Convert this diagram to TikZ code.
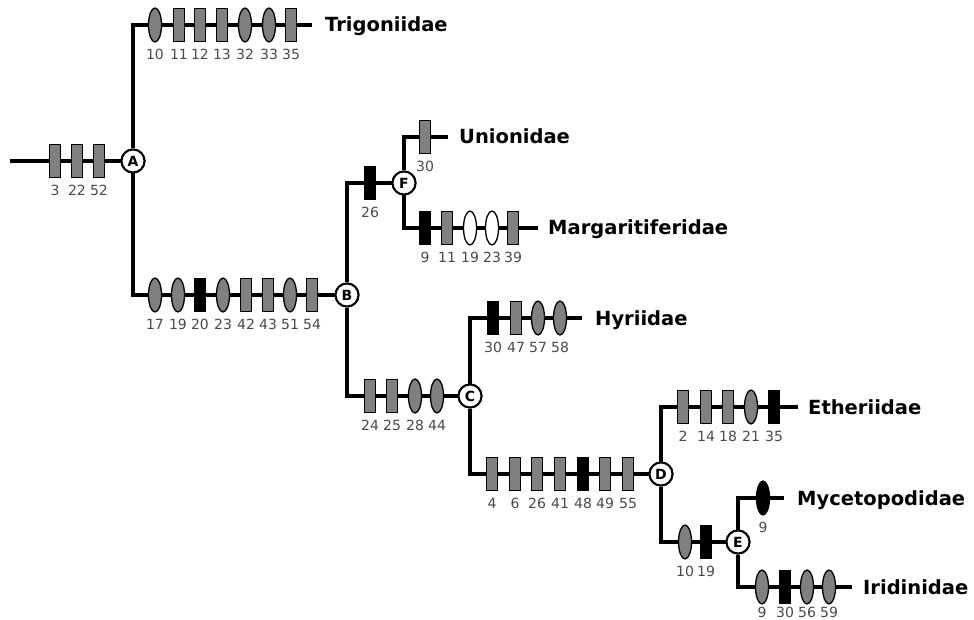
\documentclass[tikz,border=0pt]{standalone}
\usepackage{fontspec}
\setmainfont{DejaVu Sans}
\usetikzlibrary{shapes.geometric}
\definecolor{markgray}{HTML}{808080}
\definecolor{numgray}{HTML}{4A4A4A}

% One row of character-state marks along a branch:
% #1 name prefix, #2 y of the branch, #3 list of x/style/number, #4 label offset
\newcommand\markrow[4][29]{%
  \foreach \xx/\mk/\lb [count=\ii] in {#4} {%
    \node[\mk] (#2\ii) at (\xx,#3) {};
    \node[num] (#2\ii n) at (\xx,#3+#1) {\lb};
  }%
}

\begin{document}
\begin{tikzpicture}[x=1pt,y=-1pt,
  branch/.style={line width=3.3pt,black},
  rmark/.style={rectangle,draw=black,line width=1.3pt,minimum width=11.5pt,minimum height=33pt,inner sep=0pt},
  emark/.style={ellipse,draw=black,line width=1.3pt,minimum width=13pt,minimum height=34pt,inner sep=0pt},
  rg/.style={rmark,fill=markgray},
  rb/.style={rmark,fill=black},
  eg/.style={emark,fill=markgray},
  eb/.style={emark,fill=black},
  ew/.style={emark,fill=white},
  num/.style={font=\fontsize{14}{14}\selectfont,text=numgray,inner sep=0pt},
  taxon/.style={font=\fontsize{19.5}{20}\selectfont\bfseries,anchor=base west,inner sep=0pt},
  hub/.style={circle,draw=black,line width=2pt,fill=white,minimum size=23pt,inner sep=0pt,font=\fontsize{14}{14}\selectfont\bfseries}
]
\fill[white] (0,0) rectangle (974,620);
\useasboundingbox (0,0) rectangle (974,620);

% internal nodes
\node[hub] (A) at (133,161) {A};
\node[hub] (B) at (347,295) {B};
\node[hub] (F) at (404,183) {F};
\node[hub] (C) at (470,396) {C};
\node[hub] (D) at (661,474) {D};
\node[hub] (E) at (738,542) {E};

% terminal ends of the branches
\coordinate (root) at (10,161);
\coordinate (trigEnd) at (312,25);
\coordinate (unioEnd) at (448,137);
\coordinate (margEnd) at (538,228);
\coordinate (hyriEnd) at (582,318);
\coordinate (ethEnd) at (798,407);
\coordinate (mycEnd) at (784,498);
\coordinate (iridEnd) at (852,587);

% tree branches
\begin{scope}[branch]
\draw (root) -- (A);
\draw (A) |- (trigEnd);
\draw (A) |- (B);
\draw (B) |- (F);
\draw (F) |- (unioEnd);
\draw (F) |- (margEnd);
\draw (B) |- (C);
\draw (C) |- (hyriEnd);
\draw (C) |- (D);
\draw (D) |- (ethEnd);
\draw (D) |- (E);
\draw (E) |- (mycEnd);
\draw (E) |- (iridEnd);
\end{scope}

% character states on each branch
\markrow{r}{161}{55/rg/3, 77/rg/22, 99/rg/52}
\markrow{t}{25}{155/eg/10, 179/rg/11, 200/rg/12, 222/rg/13, 245/eg/32, 269/eg/33, 291/rg/35}
\markrow{b}{295}{155/eg/17, 178/eg/19, 200/rb/20, 223/eg/23, 246/rg/42, 268/rg/43, 290/eg/51, 312/rg/54}
\markrow{f}{183}{370/rb/26}
\markrow{u}{137}{425/rg/30}
\markrow{m}{228}{425/rb/9, 447/rg/11, 470/ew/19, 492/ew/23, 513/rg/39}
\markrow{c}{396}{370/rg/24, 392/rg/25, 415/eg/28, 437/eg/44}
\markrow{h}{318}{493/rb/30, 516/rg/47, 538/eg/57, 560/eg/58}
\markrow{d}{474}{492/rg/4, 515/rg/6, 537/rg/26, 560/rg/41, 583/rb/48, 605/rg/49, 628/rg/55}
\markrow{e}{407}{683/rg/2, 706/rg/14, 728/rg/18, 751/eg/21, 774/rb/35}
\markrow{k}{542}{685/eg/10, 706/rb/19}
\markrow{y}{498}{763/eb/9}
\markrow[25]{i}{587}{762/eg/9, 785/rb/30, 807/eg/56, 829/eg/59}

% redraw the hubs on top
\foreach \h in {A,B,F,C,D,E} {\node[hub] at (\h) {\h};}

% taxa
\node[taxon] (trig) at (325,32) {Trigoniidae};
\node[taxon] (unio) at (459,144) {Unionidae};
\node[taxon] (marg) at (548,235) {Margaritiferidae};
\node[taxon] (hyri) at (595,325) {Hyriidae};
\node[taxon] (ethe) at (808,414) {Etheriidae};
\node[taxon] (myce) at (797,505) {Mycetopodidae};
\node[taxon] (irid) at (863,594) {Iridinidae};
\end{tikzpicture}
\end{document}
